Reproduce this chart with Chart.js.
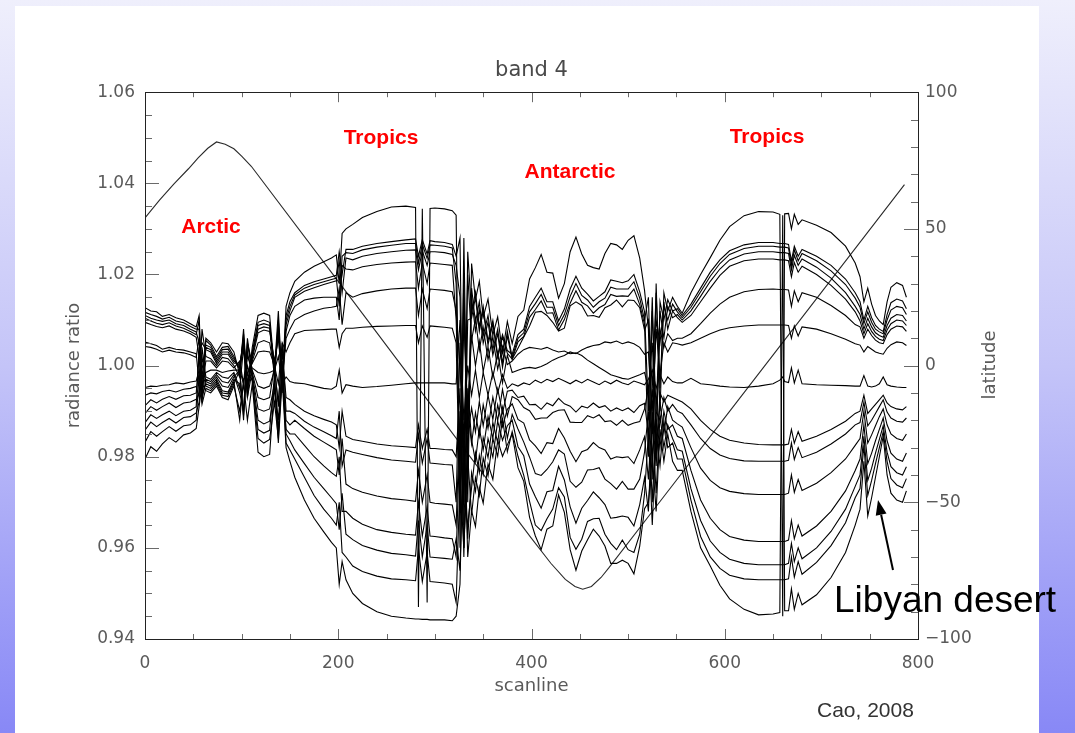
<!DOCTYPE html>
<html><head><meta charset="utf-8">
<script src="https://cdn.jsdelivr.net/npm/chart.js@4.4.1/dist/chart.umd.min.js"></script>
<style>
html,body{margin:0;padding:0;width:1075px;height:733px;overflow:hidden;}
body{background:linear-gradient(to bottom,#efeffc 0%,#c4c4f8 50%,#8888f6 100%);position:relative;}
#panel{position:absolute;left:15px;top:6px;width:1024px;height:727px;background:#fff;}
#wrap{position:absolute;left:0;top:0;width:1075px;height:733px;}
</style></head>
<body><div id="panel"></div><div id="wrap"><canvas id="c" width="1075" height="733"></canvas></div>
<script>
// ---- categories (scanline positions shared by all radiance-ratio series) ----
const scanlines = [
 0, 6, 12, 18, 25, 32, 40, 47, 53,
 56, 59, 63, 68, 74, 80, 86, 92, 98, 102, 106, 111, 117, 123, 129, 134, 138, 142, 146, 150,
 155, 165, 175, 185, 193, 198, 201, 204, 208,
 215, 225, 240, 255, 270, 280, 283, 287, 292, 295, 300, 310, 318,
 322, 326, 330, 334, 338, 342, 346, 350, 355, 360, 365, 370, 375,
 380, 386, 392, 398, 404, 410, 416, 422, 428, 434, 440, 446, 452, 458, 464, 470, 476, 482, 488, 494, 500, 506, 512, 517,
 521, 525, 529, 533, 537, 541, 546, 551,
 556, 565, 575, 585, 595, 605, 620, 635, 650, 657, 660, 662, 666, 669, 672, 676, 680, 695, 710, 725, 735,
 740, 744, 748, 752, 756, 760, 764, 768, 772, 778, 784, 788
];

// ---- radiance ratio series ----
const ratio01 = [
 1.0127, 1.0120, 1.0118, 1.0108, 1.0112, 1.0105, 1.0100, 1.0092, 1.0085,
 1.0110, 0.9960, 1.0060, 1.0050, 1.0030, 1.0050, 1.0048, 1.0030, 0.9980, 1.0080, 0.9950, 1.0040, 1.0110, 1.0115, 1.0110, 0.9990, 1.0120, 0.9960, 1.0130, 1.0160,
 1.0185, 1.0205, 1.0218, 1.0228, 1.0236, 1.0243, 1.0180, 1.0290, 1.0300,
 1.0310, 1.0325, 1.0338, 1.0348, 1.0350, 1.0347, 0.9470, 1.0344, 0.9480, 1.0345, 1.0346, 1.0344, 1.0340,
 1.0330, 0.9600, 1.0280, 0.9750, 1.0224, 1.0145, 1.0185, 1.0106, 1.0146, 1.0067, 1.0107, 1.0028, 1.0097,
 1.0048, 1.0108, 1.0122, 1.0190, 1.0215, 1.0244, 1.0205, 1.0203, 1.0148, 1.0180, 1.0250, 1.0282, 1.0245, 1.0220, 1.0215, 1.0212, 1.0246, 1.0268, 1.0265, 1.0255, 1.0275, 1.0285, 1.0236, 1.0165,
 1.0080, 0.9750, 1.0180, 0.9900, 1.0160, 1.0120, 1.0150, 1.0130,
 1.0115, 1.0160, 1.0200, 1.0237, 1.0275, 1.0305, 1.0329, 1.0338, 1.0337, 1.0332, 0.9450, 1.0333, 1.0334, 1.0300, 1.0332, 1.0310, 1.0320, 1.0308, 1.0292, 1.0262, 1.0225,
 1.0195, 1.0140, 1.0170, 1.0135, 1.0110, 1.0098, 1.0090, 1.0140, 1.0172, 1.0182, 1.0176, 1.0150
];
const ratio02 = [
 1.0117, 1.0112, 1.0108, 1.0102, 1.0106, 1.0098, 1.0094, 1.0086, 1.0080,
 1.0080, 0.9930, 1.0055, 1.0045, 1.0020, 1.0040, 1.0042, 1.0020, 0.9990, 1.0070, 0.9940, 1.0030, 1.0095, 1.0100, 1.0095, 0.9980, 1.0100, 0.9950, 1.0110, 1.0140,
 1.0160, 1.0176, 1.0184, 1.0190, 1.0195, 1.0198, 1.0250, 1.0200, 1.0255,
 1.0255, 1.0262, 1.0268, 1.0272, 1.0276, 1.0278, 1.0240, 1.0276, 1.0245, 1.0274, 1.0272, 1.0270, 1.0266,
 1.0240, 1.0280, 0.9650, 1.0250, 1.0116, 1.0161, 1.0085, 1.0130, 1.0054, 1.0099, 1.0023, 1.0068, 1.0033,
 1.0025, 1.0068, 1.0080, 1.0130, 1.0150, 1.0170, 1.0140, 1.0140, 1.0098, 1.0124, 1.0168, 1.0196, 1.0170, 1.0157, 1.0142, 1.0152, 1.0162, 1.0188, 1.0185, 1.0182, 1.0186, 1.0200, 1.0162, 1.0118,
 0.9900, 1.0150, 0.9800, 1.0140, 1.0100, 1.0145, 1.0120, 1.0125,
 1.0110, 1.0135, 1.0170, 1.0205, 1.0232, 1.0252, 1.0265, 1.0270, 1.0270, 1.0268, 1.0268, 1.0268, 1.0266, 1.0230, 1.0262, 1.0240, 1.0255, 1.0240, 1.0220, 1.0190, 1.0160,
 1.0140, 1.0100, 1.0130, 1.0105, 1.0088, 1.0080, 1.0075, 1.0112, 1.0138, 1.0146, 1.0142, 1.0125
];
const ratio03 = [
 1.0110, 1.0104, 1.0100, 1.0097, 1.0100, 1.0092, 1.0088, 1.0080, 1.0074,
 1.0050, 0.9990, 1.0045, 1.0040, 1.0015, 1.0035, 1.0036, 1.0015, 0.9995, 1.0060, 0.9960, 1.0025, 1.0088, 1.0092, 1.0088, 0.9970, 1.0090, 0.9970, 1.0100, 1.0130,
 1.0155, 1.0170, 1.0178, 1.0184, 1.0189, 1.0192, 1.0130, 1.0240, 1.0248,
 1.0246, 1.0254, 1.0260, 1.0264, 1.0268, 1.0268, 1.0225, 1.0266, 1.0235, 1.0265, 1.0264, 1.0262, 1.0258,
 1.0180, 0.9750, 1.0200, 0.9700, 1.0170, 1.0095, 1.0140, 1.0065, 1.0110, 1.0035, 1.0080, 1.0005, 1.0075,
 1.0018, 1.0060, 1.0072, 1.0118, 1.0136, 1.0156, 1.0128, 1.0128, 1.0088, 1.0112, 1.0152, 1.0180, 1.0154, 1.0144, 1.0128, 1.0140, 1.0148, 1.0172, 1.0168, 1.0168, 1.0168, 1.0184, 1.0148, 1.0100,
 1.0150, 0.9850, 1.0100, 1.0050, 1.0130, 1.0100, 1.0135, 1.0118,
 1.0105, 1.0128, 1.0162, 1.0196, 1.0224, 1.0244, 1.0257, 1.0262, 1.0262, 1.0260, 1.0260, 1.0260, 1.0258, 1.0220, 1.0254, 1.0230, 1.0246, 1.0230, 1.0208, 1.0178, 1.0148,
 1.0128, 1.0092, 1.0118, 1.0095, 1.0080, 1.0074, 1.0070, 1.0100, 1.0122, 1.0130, 1.0127, 1.0112
];
const ratio04 = [
 1.0104, 1.0098, 1.0093, 1.0090, 1.0094, 1.0087, 1.0082, 1.0075, 1.0068,
 1.0100, 0.9920, 1.0040, 1.0035, 1.0010, 1.0030, 1.0030, 1.0010, 1.0000, 1.0050, 0.9930, 1.0020, 1.0080, 1.0085, 1.0082, 1.0000, 1.0070, 0.9940, 1.0090, 1.0120,
 1.0150, 1.0163, 1.0171, 1.0178, 1.0183, 1.0186, 1.0230, 1.0160, 1.0236,
 1.0232, 1.0240, 1.0246, 1.0250, 1.0253, 1.0254, 1.0210, 1.0252, 1.0220, 1.0250, 1.0250, 1.0248, 1.0244,
 1.0220, 1.0150, 0.9700, 1.0100, 1.0104, 1.0150, 1.0075, 1.0121, 1.0046, 1.0092, 1.0017, 1.0063, 1.0027,
 1.0014, 1.0052, 1.0064, 1.0106, 1.0123, 1.0142, 1.0115, 1.0116, 1.0078, 1.0101, 1.0137, 1.0164, 1.0139, 1.0131, 1.0115, 1.0127, 1.0134, 1.0156, 1.0152, 1.0153, 1.0152, 1.0168, 1.0134, 1.0090,
 0.9800, 1.0120, 0.9900, 1.0120, 1.0060, 1.0130, 1.0105, 1.0112,
 1.0100, 1.0120, 1.0152, 1.0185, 1.0212, 1.0232, 1.0245, 1.0250, 1.0250, 1.0248, 1.0248, 1.0248, 1.0246, 1.0210, 1.0242, 1.0220, 1.0234, 1.0216, 1.0192, 1.0160, 1.0130,
 1.0112, 1.0080, 1.0104, 1.0085, 1.0072, 1.0066, 1.0062, 1.0088, 1.0104, 1.0112, 1.0110, 1.0098
];
const ratio05 = [
 1.0095, 1.0090, 1.0086, 1.0083, 1.0087, 1.0080, 1.0076, 1.0070, 1.0062,
 1.0020, 1.0050, 1.0035, 1.0030, 1.0005, 1.0025, 1.0025, 1.0005, 1.0005, 1.0040, 0.9980, 1.0015, 1.0072, 1.0078, 1.0075, 1.0010, 1.0060, 0.9980, 1.0075, 1.0110,
 1.0130, 1.0144, 1.0148, 1.0150, 1.0150, 1.0150, 1.0100, 1.0220, 1.0212,
 1.0210, 1.0217, 1.0222, 1.0225, 1.0227, 1.0228, 1.0170, 1.0226, 1.0180, 1.0225, 1.0224, 1.0222, 1.0220,
 1.0100, 0.9800, 1.0150, 0.9850, 1.0149, 1.0076, 1.0123, 1.0049, 1.0096, 1.0023, 1.0070, 0.9996, 1.0065,
 1.0014, 1.0038, 1.0063, 1.0087, 1.0117, 1.0119, 1.0110, 1.0095, 1.0076, 1.0082, 1.0131, 1.0140, 1.0132, 1.0109, 1.0110, 1.0106, 1.0127, 1.0133, 1.0144, 1.0129, 1.0144, 1.0143, 1.0127, 1.0078,
 1.0100, 0.9950, 1.0160, 0.9950, 1.0140, 1.0080, 1.0120, 1.0105,
 1.0095, 1.0110, 1.0140, 1.0170, 1.0198, 1.0218, 1.0230, 1.0234, 1.0234, 1.0232, 1.0232, 1.0232, 1.0230, 1.0195, 1.0226, 1.0205, 1.0218, 1.0200, 1.0176, 1.0146, 1.0118,
 1.0098, 1.0070, 1.0092, 1.0075, 1.0064, 1.0058, 1.0055, 1.0078, 1.0092, 1.0100, 1.0098, 1.0088
];
const ratio06 = [
 1.0052, 1.0048, 1.0044, 1.0036, 1.0040, 1.0036, 1.0034, 1.0030, 1.0026,
 0.9960, 1.0080, 1.0020, 1.0015, 1.0000, 1.0018, 1.0015, 1.0000, 0.9975, 1.0060, 0.9960, 1.0010, 1.0050, 1.0055, 1.0050, 0.9990, 1.0080, 0.9960, 1.0060, 1.0080,
 1.0100, 1.0112, 1.0120, 1.0126, 1.0128, 1.0130, 1.0170, 1.0090, 1.0160,
 1.0150, 1.0158, 1.0164, 1.0168, 1.0170, 1.0170, 1.0110, 1.0168, 1.0125, 1.0168, 1.0167, 1.0165, 1.0162,
 1.0120, 1.0000, 0.9800, 1.0200, 1.0055, 1.0104, 1.0034, 1.0084, 1.0013, 1.0063, 0.9992, 1.0042, 1.0002,
 1.0010, 1.0025, 1.0035, 1.0040, 1.0038, 1.0036, 1.0040, 1.0034, 1.0030, 1.0032, 1.0026, 1.0028, 1.0022, 1.0012, 1.0004, 0.9996, 0.9988, 0.9980, 0.9976, 0.9972, 0.9970, 0.9975, 0.9980, 0.9985,
 0.9950, 1.0050, 0.9850, 1.0080, 1.0040, 1.0070, 1.0055, 1.0060,
 1.0060, 1.0070, 1.0092, 1.0115, 1.0135, 1.0150, 1.0162, 1.0167, 1.0168, 1.0167, 1.0167, 1.0167, 1.0166, 1.0130, 1.0164, 1.0140, 1.0160, 1.0150, 1.0132, 1.0110, 1.0090,
 1.0085, 1.0060, 1.0080, 1.0066, 1.0056, 1.0050, 1.0048, 1.0068, 1.0080, 1.0087, 1.0085, 1.0075
];
const ratio07 = [
 1.0042, 1.0040, 1.0036, 1.0030, 1.0034, 1.0030, 1.0028, 1.0024, 1.0018,
 1.0060, 0.9950, 1.0010, 1.0010, 0.9995, 1.0010, 1.0008, 0.9995, 1.0010, 0.9960, 1.0050, 1.0005, 1.0030, 1.0032, 1.0030, 1.0000, 0.9960, 1.0050, 1.0030, 1.0050,
 1.0070, 1.0077, 1.0078, 1.0079, 1.0080, 1.0080, 1.0040, 1.0070, 1.0082,
 1.0082, 1.0084, 1.0086, 1.0087, 1.0088, 1.0088, 1.0050, 1.0087, 1.0062, 1.0087, 1.0086, 1.0084, 1.0082,
 1.0050, 0.9700, 1.0100, 0.9900, 1.0066, 1.0000, 1.0054, 0.9987, 1.0041, 0.9974, 1.0028, 0.9962, 1.0023,
 0.9985, 0.9990, 0.9994, 0.9996, 0.9994, 0.9998, 1.0004, 1.0012, 1.0018, 1.0022, 1.0030, 1.0026, 1.0034, 1.0040, 1.0044, 1.0046, 1.0052, 1.0050, 1.0054, 1.0048, 1.0052, 1.0048, 1.0040, 1.0025,
 1.0030, 0.9900, 1.0080, 0.9980, 1.0050, 1.0030, 1.0050, 1.0048,
 1.0045, 1.0050, 1.0060, 1.0070, 1.0078, 1.0083, 1.0087, 1.0089, 1.0089, 1.0089, 1.0089, 1.0089, 1.0088, 1.0060, 1.0087, 1.0065, 1.0085, 1.0080, 1.0070, 1.0058, 1.0048,
 1.0045, 1.0030, 1.0042, 1.0036, 1.0030, 1.0027, 1.0025, 1.0038, 1.0046, 1.0052, 1.0050, 1.0044
];
const ratio08 = [
 0.9952, 0.9955, 0.9954, 0.9957, 0.9958, 0.9962, 0.9960, 0.9964, 0.9966,
 0.9990, 0.9960, 0.9985, 0.9990, 0.9990, 0.9985, 0.9988, 0.9990, 0.9990, 0.9960, 1.0020, 0.9995, 0.9985, 0.9982, 0.9985, 0.9990, 1.0020, 0.9960, 0.9975, 0.9965,
 0.9962, 0.9960, 0.9955, 0.9950, 0.9948, 0.9955, 0.9990, 0.9940, 0.9958,
 0.9955, 0.9952, 0.9954, 0.9957, 0.9960, 0.9962, 0.9962, 0.9962, 0.9962, 0.9962, 0.9962, 0.9962, 0.9960,
 0.9960, 1.0100, 0.9880, 1.0000, 0.9935, 0.9990, 0.9930, 0.9985, 0.9935, 0.9985, 0.9940, 0.9980, 0.9950,
 0.9960, 0.9955, 0.9962, 0.9958, 0.9968, 0.9962, 0.9970, 0.9965, 0.9972, 0.9966, 0.9960, 0.9968, 0.9962, 0.9970, 0.9964, 0.9958, 0.9966, 0.9960, 0.9968, 0.9962, 0.9958, 0.9966, 0.9962, 0.9958,
 0.9970, 0.9990, 0.9950, 0.9980, 0.9960, 0.9975, 0.9965, 0.9962,
 0.9962, 0.9972, 0.9960, 0.9958, 0.9955, 0.9953, 0.9952, 0.9955, 0.9960, 0.9968, 0.9975, 0.9965, 0.9963, 0.9995, 0.9962, 0.9990, 0.9960, 0.9958, 0.9957, 0.9956, 0.9955,
 0.9955, 0.9978, 0.9955, 0.9953, 0.9955, 0.9960, 0.9975, 0.9958, 0.9955, 0.9953, 0.9952, 0.9952
];
const ratio09 = [
 0.9935, 0.9940, 0.9938, 0.9943, 0.9946, 0.9942, 0.9948, 0.9950, 0.9954,
 0.9930, 1.0040, 0.9975, 0.9970, 0.9985, 0.9975, 0.9972, 0.9985, 0.9950, 1.0040, 0.9930, 0.9990, 0.9955, 0.9950, 0.9955, 0.9990, 0.9920, 1.0030, 0.9930, 0.9925,
 0.9915, 0.9900, 0.9890, 0.9882, 0.9876, 0.9870, 0.9820, 0.9900, 0.9845,
 0.9838, 0.9834, 0.9828, 0.9824, 0.9822, 0.9820, 0.9870, 0.9818, 0.9860, 0.9818, 0.9818, 0.9816, 0.9815,
 0.9800, 0.9950, 0.9600, 0.9850, 0.9907, 0.9854, 0.9921, 0.9868, 0.9935, 0.9882, 0.9949, 0.9896, 0.9944,
 0.9946, 0.9930, 0.9933, 0.9914, 0.9915, 0.9904, 0.9918, 0.9912, 0.9928, 0.9916, 0.9911, 0.9898, 0.9911, 0.9907, 0.9918, 0.9908, 0.9912, 0.9900, 0.9907, 0.9901, 0.9907, 0.9897, 0.9912, 0.9917,
 0.9850, 0.9950, 0.9800, 0.9940, 0.9920, 0.9935, 0.9930, 0.9925,
 0.9920, 0.9905, 0.9880, 0.9860, 0.9845, 0.9836, 0.9830, 0.9827, 0.9826, 0.9826, 0.9826, 0.9826, 0.9828, 0.9860, 0.9830, 0.9855, 0.9834, 0.9845, 0.9860, 0.9878, 0.9895,
 0.9900, 0.9935, 0.9895, 0.9905, 0.9915, 0.9925, 0.9935, 0.9918, 0.9910, 0.9905, 0.9903, 0.9910
];
const ratio10 = [
 0.9912, 0.9925, 0.9918, 0.9926, 0.9932, 0.9926, 0.9934, 0.9935, 0.9940,
 1.0020, 0.9925, 0.9970, 0.9965, 0.9980, 0.9965, 0.9962, 0.9980, 0.9940, 0.9900, 1.0050, 0.9985, 0.9930, 0.9925, 0.9930, 1.0000, 0.9910, 1.0050, 0.9900, 0.9900,
 0.9895, 0.9878, 0.9865, 0.9855, 0.9846, 0.9840, 0.9900, 0.9780, 0.9815,
 0.9810, 0.9805, 0.9798, 0.9793, 0.9790, 0.9788, 0.9850, 0.9786, 0.9840, 0.9786, 0.9785, 0.9783, 0.9782,
 0.9700, 1.0050, 0.9750, 0.9900, 0.9828, 0.9897, 0.9845, 0.9914, 0.9862, 0.9931, 0.9879, 0.9948, 0.9889,
 0.9932, 0.9925, 0.9908, 0.9901, 0.9882, 0.9885, 0.9885, 0.9897, 0.9902, 0.9903, 0.9876, 0.9875, 0.9875, 0.9890, 0.9885, 0.9892, 0.9877, 0.9879, 0.9869, 0.9880, 0.9869, 0.9874, 0.9877, 0.9905,
 0.9950, 0.9800, 0.9900, 0.9880, 0.9930, 0.9900, 0.9915, 0.9900,
 0.9895, 0.9870, 0.9840, 0.9818, 0.9804, 0.9796, 0.9791, 0.9790, 0.9790, 0.9790, 0.9790, 0.9790, 0.9792, 0.9830, 0.9794, 0.9820, 0.9798, 0.9810, 0.9828, 0.9850, 0.9870,
 0.9875, 0.9920, 0.9868, 0.9880, 0.9895, 0.9910, 0.9925, 0.9898, 0.9885, 0.9878, 0.9876, 0.9885
];
const ratio11 = [
 0.9895, 0.9910, 0.9902, 0.9910, 0.9918, 0.9908, 0.9918, 0.9920, 0.9926,
 0.9940, 1.0020, 0.9965, 0.9960, 0.9975, 0.9955, 0.9952, 0.9975, 0.9990, 0.9880, 1.0060, 0.9980, 0.9905, 0.9900, 0.9905, 0.9960, 0.9880, 1.0000, 0.9880, 0.9870,
 0.9880, 0.9862, 0.9845, 0.9832, 0.9822, 0.9815, 0.9760, 0.9840, 0.9740,
 0.9730, 0.9722, 0.9714, 0.9708, 0.9705, 0.9702, 0.9770, 0.9700, 0.9760, 0.9700, 0.9698, 0.9696, 0.9694,
 0.9650, 0.9900, 0.9580, 0.9950, 0.9837, 0.9790, 0.9863, 0.9815, 0.9888, 0.9841, 0.9914, 0.9866, 0.9904,
 0.9916, 0.9882, 0.9874, 0.9837, 0.9824, 0.9807, 0.9831, 0.9829, 0.9862, 0.9841, 0.9812, 0.9789, 0.9811, 0.9816, 0.9831, 0.9820, 0.9815, 0.9795, 0.9800, 0.9798, 0.9800, 0.9785, 0.9815, 0.9844,
 0.9750, 0.9900, 0.9780, 0.9920, 0.9850, 0.9910, 0.9880, 0.9872,
 0.9865, 0.9820, 0.9775, 0.9748, 0.9732, 0.9724, 0.9719, 0.9717, 0.9717, 0.9717, 0.9717, 0.9717, 0.9720, 0.9760, 0.9722, 0.9750, 0.9726, 0.9742, 0.9765, 0.9795, 0.9825,
 0.9840, 0.9900, 0.9830, 0.9848, 0.9868, 0.9888, 0.9905, 0.9870, 0.9850, 0.9840, 0.9836, 0.9850
];
const ratio12 = [
 0.9875, 0.9892, 0.9884, 0.9892, 0.9900, 0.9890, 0.9900, 0.9902, 0.9910,
 1.0040, 0.9935, 0.9960, 0.9955, 0.9970, 0.9945, 0.9942, 0.9970, 0.9960, 0.9900, 1.0030, 0.9975, 0.9880, 0.9872, 0.9878, 0.9950, 0.9860, 0.9980, 0.9860, 0.9850,
 0.9850, 0.9825, 0.9800, 0.9780, 0.9765, 0.9757, 0.9800, 0.9680, 0.9680,
 0.9665, 0.9652, 0.9640, 0.9634, 0.9630, 0.9628, 0.9700, 0.9626, 0.9690, 0.9626, 0.9625, 0.9622, 0.9620,
 0.9580, 0.9850, 0.9700, 0.9650, 0.9732, 0.9809, 0.9765, 0.9842, 0.9798, 0.9875, 0.9831, 0.9908, 0.9841,
 0.9893, 0.9861, 0.9832, 0.9799, 0.9763, 0.9759, 0.9772, 0.9789, 0.9815, 0.9806, 0.9746, 0.9733, 0.9744, 0.9771, 0.9772, 0.9776, 0.9751, 0.9741, 0.9729, 0.9746, 0.9729, 0.9729, 0.9751, 0.9810,
 0.9900, 0.9700, 0.9880, 0.9820, 0.9900, 0.9860, 0.9870, 0.9845,
 0.9840, 0.9770, 0.9705, 0.9665, 0.9640, 0.9625, 0.9617, 0.9614, 0.9614, 0.9614, 0.9614, 0.9614, 0.9617, 0.9660, 0.9620, 0.9650, 0.9626, 0.9648, 0.9680, 0.9725, 0.9770,
 0.9795, 0.9870, 0.9785, 0.9808, 0.9835, 0.9860, 0.9885, 0.9835, 0.9808, 0.9795, 0.9790, 0.9808
];
const ratio13 = [
 0.9858, 0.9876, 0.9866, 0.9875, 0.9884, 0.9874, 0.9886, 0.9888, 0.9896,
 0.9920, 0.9990, 0.9955, 0.9950, 0.9965, 0.9940, 0.9938, 0.9965, 0.9880, 0.9970, 0.9980, 0.9970, 0.9860, 0.9852, 0.9858, 0.9980, 0.9850, 1.0010, 0.9850, 0.9835,
 0.9815, 0.9785, 0.9755, 0.9730, 0.9710, 0.9697, 0.9640, 0.9720, 0.9630,
 0.9618, 0.9605, 0.9595, 0.9588, 0.9585, 0.9582, 0.9660, 0.9580, 0.9650, 0.9580, 0.9579, 0.9577, 0.9575,
 0.9620, 0.9550, 0.9850, 0.9620, 0.9765, 0.9724, 0.9803, 0.9761, 0.9840, 0.9799, 0.9878, 0.9836, 0.9868,
 0.9880, 0.9822, 0.9802, 0.9740, 0.9712, 0.9687, 0.9723, 0.9726, 0.9779, 0.9749, 0.9690, 0.9654, 0.9687, 0.9704, 0.9723, 0.9710, 0.9695, 0.9665, 0.9667, 0.9670, 0.9667, 0.9648, 0.9695, 0.9754,
 0.9680, 0.9880, 0.9720, 0.9890, 0.9820, 0.9870, 0.9840, 0.9815,
 0.9812, 0.9730, 0.9660, 0.9615, 0.9590, 0.9575, 0.9566, 0.9563, 0.9563, 0.9563, 0.9563, 0.9563, 0.9566, 0.9610, 0.9570, 0.9600, 0.9576, 0.9600, 0.9636, 0.9685, 0.9735,
 0.9760, 0.9845, 0.9748, 0.9775, 0.9808, 0.9838, 0.9868, 0.9810, 0.9778, 0.9765, 0.9760, 0.9778
];
const ratio14 = [
 0.9832, 0.9855, 0.9845, 0.9855, 0.9866, 0.9856, 0.9868, 0.9870, 0.9880,
 0.9980, 0.9915, 0.9950, 0.9945, 0.9960, 0.9935, 0.9932, 0.9960, 0.9990, 0.9890, 1.0000, 0.9965, 0.9840, 0.9830, 0.9838, 0.9920, 0.9840, 0.9990, 0.9830, 0.9815,
 0.9795, 0.9755, 0.9715, 0.9685, 0.9665, 0.9650, 0.9700, 0.9590, 0.9580,
 0.9560, 0.9548, 0.9538, 0.9532, 0.9530, 0.9528, 0.9600, 0.9526, 0.9590, 0.9526, 0.9525, 0.9523, 0.9520,
 0.9480, 0.9750, 0.9600, 0.9800, 0.9672, 0.9754, 0.9715, 0.9797, 0.9758, 0.9840, 0.9801, 0.9883, 0.9811,
 0.9855, 0.9801, 0.9759, 0.9702, 0.9650, 0.9638, 0.9664, 0.9685, 0.9732, 0.9712, 0.9623, 0.9597, 0.9619, 0.9658, 0.9664, 0.9665, 0.9630, 0.9610, 0.9596, 0.9617, 0.9596, 0.9590, 0.9630, 0.9719,
 0.9850, 0.9650, 0.9850, 0.9780, 0.9880, 0.9820, 0.9830, 0.9795,
 0.9795, 0.9705, 0.9625, 0.9580, 0.9555, 0.9540, 0.9532, 0.9530, 0.9530, 0.9530, 0.9530, 0.9530, 0.9532, 0.9580, 0.9536, 0.9570, 0.9542, 0.9568, 0.9605, 0.9655, 0.9710,
 0.9730, 0.9825, 0.9715, 0.9748, 0.9785, 0.9820, 0.9855, 0.9790, 0.9752, 0.9738, 0.9732, 0.9752
];
const ratio15 = [
 0.9795, 0.9822, 0.9812, 0.9828, 0.9842, 0.9832, 0.9848, 0.9852, 0.9862,
 0.9910, 0.9960, 0.9945, 0.9940, 0.9955, 0.9930, 0.9925, 0.9955, 0.9900, 0.9960, 0.9880, 0.9960, 0.9810, 0.9800, 0.9805, 0.9960, 0.9830, 0.9970, 0.9820, 0.9790,
 0.9755, 0.9705, 0.9665, 0.9635, 0.9612, 0.9600, 0.9520, 0.9570, 0.9530,
 0.9500, 0.9478, 0.9460, 0.9450, 0.9446, 0.9444, 0.9444, 0.9443, 0.9443, 0.9442, 0.9442, 0.9442, 0.9440,
 0.9450, 0.9520, 0.9900, 0.9580, 0.9681, 0.9647, 0.9733, 0.9698, 0.9784, 0.9750, 0.9836, 0.9801, 0.9826,
 0.9850, 0.9776, 0.9746, 0.9667, 0.9626, 0.9596, 0.9641, 0.9648, 0.9716, 0.9678, 0.9596, 0.9551, 0.9593, 0.9618, 0.9641, 0.9626, 0.9604, 0.9566, 0.9566, 0.9573, 0.9566, 0.9543, 0.9604, 0.9686,
 0.9700, 0.9800, 0.9680, 0.9860, 0.9790, 0.9850, 0.9790, 0.9770,
 0.9770, 0.9680, 0.9600, 0.9560, 0.9518, 0.9488, 0.9465, 0.9453, 0.9455, 0.9458, 1.0330, 0.9462, 0.9462, 0.9510, 0.9465, 0.9500, 0.9475, 0.9497, 0.9535, 0.9590, 0.9650,
 0.9685, 0.9790, 0.9670, 0.9710, 0.9755, 0.9800, 0.9845, 0.9760, 0.9720, 0.9705, 0.9700, 0.9725
];

// ---- latitude series (right axis) ----
const latScan   = [0, 15, 30, 45, 55, 65, 74, 83, 92, 100, 110, 200, 300, 400, 420, 435, 445, 453, 462, 472, 480, 533, 600, 700, 786];
const latValues = [54.0, 60.5, 66.5, 72.0, 76.0, 79.5, 81.8, 81.0, 79.3, 76.6, 72.9, 30.8, -16.2, -63.2, -72.3, -78.2, -80.8, -81.8, -80.8, -77.5, -74.0, -49.7, -19.0, 26.8, 66.2];

// ---- axis tick values ----
const xTickLabels = [0, 200, 400, 600, 800];
const yTickLabels = [0.94, 0.96, 0.98, 1.00, 1.02, 1.04, 1.06];
const latTickLabels = [-100, -50, 0, 50, 100];

const radianceSeries = [ratio01, ratio02, ratio03, ratio04, ratio05, ratio06, ratio07, ratio08,
                        ratio09, ratio10, ratio11, ratio12, ratio13, ratio14, ratio15];
radianceSeries.forEach((s, i) => {
  if (s.length !== scanlines.length) console.error('series ' + (i + 1) + ' has ' + s.length + ' values, expected ' + scanlines.length);
});

const datasets = radianceSeries.map(vals => ({
  data: vals.map((v, i) => ({ x: scanlines[i], y: v })),
  borderColor: '#000', borderWidth: 1.1, pointRadius: 0, tension: 0, fill: false,
  xAxisID: 'x', yAxisID: 'y'
}));
datasets.push({
  data: latScan.map((s, i) => ({ x: s, y: latValues[i] })),
  borderColor: '#2a2a2a', borderWidth: 1.1, pointRadius: 0, tension: 0, fill: false,
  xAxisID: 'x', yAxisID: 'y1'
});

const tickFont = { family: 'DejaVu Sans', size: 17 };
const tickColor = '#5a5a5a';

const frameTicks = {
  id: 'frameTicks',
  afterDatasetsDraw(chart) {
    const { ctx, chartArea: a, scales } = chart;
    const x = scales.x, y = scales.y, y1 = scales.y1;
    ctx.save();
    ctx.lineWidth = 1;
    ctx.strokeStyle = '#6a6a6a';
    const seg = (x0, y0, x1, yy1) => { ctx.beginPath(); ctx.moveTo(x0, y0); ctx.lineTo(x1, yy1); ctx.stroke(); };
    for (let v = 0; v <= 800; v += 50) {
      const px = Math.round(x.getPixelForValue(v)) + 0.5;
      const len = (v % 200 === 0) ? 10 : 5;
      seg(px, a.bottom, px, a.bottom - len);
      seg(px, a.top, px, a.top + len);
    }
    for (let k = 0; k <= 24; k++) {
      const v = 0.94 + k * 0.005;
      const py = Math.round(y.getPixelForValue(v)) + 0.5;
      const len = (k % 4 === 0) ? 14 : 7;
      seg(a.left, py, a.left + len, py);
    }
    for (let v = -100; v <= 100; v += 10) {
      const py = Math.round(y1.getPixelForValue(v)) + 0.5;
      const len = (v % 50 === 0) ? 14 : 7;
      seg(a.right, py, a.right - len, py);
    }
    ctx.strokeStyle = '#222';
    ctx.strokeRect(Math.round(a.left) + 0.5, Math.round(a.top) + 0.5, Math.round(a.right - a.left), Math.round(a.bottom - a.top));
    ctx.restore();
  }
};

const annotations = {
  id: 'annotations',
  afterDraw(chart) {
    const ctx = chart.ctx;
    ctx.save();
    ctx.fillStyle = '#ff0000';
    ctx.font = 'bold 21px "Liberation Sans", Arial, sans-serif';
    ctx.textAlign = 'center'; ctx.textBaseline = 'middle';
    ctx.fillText('Arctic', 211, 227);
    ctx.fillText('Tropics', 381, 138);
    ctx.fillText('Antarctic', 570, 172);
    ctx.fillText('Tropics', 767, 137);

    ctx.fillStyle = '#000';
    ctx.font = '37px "Liberation Sans", Arial, sans-serif';
    ctx.textAlign = 'left'; ctx.textBaseline = 'alphabetic';
    ctx.fillText('Libyan desert', 834, 612);

    ctx.fillStyle = '#333';
    ctx.font = '21px "Liberation Sans", Arial, sans-serif';
    ctx.fillText('Cao, 2008', 817, 717);

    // right axis title
    ctx.save();
    ctx.translate(990, 365);
    ctx.rotate(-Math.PI / 2);
    ctx.fillStyle = '#5a5a5a';
    ctx.font = '18px "DejaVu Sans", sans-serif';
    ctx.textAlign = 'center'; ctx.textBaseline = 'middle';
    ctx.fillText('latitude', 0, 0);
    ctx.restore();

    // arrow
    const tail = [893, 570], tip = [878, 500];
    const dx = tip[0] - tail[0], dy = tip[1] - tail[1];
    const L = Math.hypot(dx, dy), ux = dx / L, uy = dy / L;
    const hl = 15, hw = 5.5;
    const bx = tip[0] - ux * hl, by = tip[1] - uy * hl;
    ctx.strokeStyle = '#000'; ctx.lineWidth = 2;
    ctx.beginPath(); ctx.moveTo(tail[0], tail[1]); ctx.lineTo(bx, by); ctx.stroke();
    ctx.fillStyle = '#000';
    ctx.beginPath();
    ctx.moveTo(tip[0], tip[1]);
    ctx.lineTo(bx - uy * hw, by + ux * hw);
    ctx.lineTo(bx + uy * hw, by - ux * hw);
    ctx.closePath(); ctx.fill();
    ctx.restore();
  }
};

new Chart(document.getElementById('c'), {
  type: 'line',
  data: { datasets },
  options: {
    responsive: false, animation: false, events: [],
    layout: { padding: { top: 0, left: 0, right: 0, bottom: 0 } },
    plugins: {
      legend: { display: false }, tooltip: { enabled: false },
      title: { display: true, text: 'band 4', fullSize: false, color: '#4a4a4a',
               font: { family: 'DejaVu Sans', size: 21, weight: 'normal' },
               padding: { top: 58, bottom: 9 } }
    },
    scales: {
      x: {
        type: 'linear', position: 'bottom', min: 0, max: 800,
        afterBuildTicks(s) { s.ticks = xTickLabels.map(v => ({ value: v })); },
        ticks: { padding: 14, font: tickFont, color: tickColor, maxRotation: 0, autoSkip: false },
        grid: { display: false, drawTicks: false }, border: { display: false },
        title: { display: true, text: 'scanline', color: tickColor, font: { family: 'DejaVu Sans', size: 18 }, padding: { top: 0, bottom: 36 } },
        afterFit(s) { s.height = 94; }
      },
      y: {
        type: 'linear', position: 'left', min: 0.94, max: 1.06,
        afterBuildTicks(s) { s.ticks = yTickLabels.map(v => ({ value: v })); },
        ticks: { padding: 10, font: tickFont, color: tickColor, callback: v => Number(v).toFixed(2) },
        grid: { display: false, drawTicks: false }, border: { display: false },
        title: { display: true, text: 'radiance ratio', color: tickColor, font: { family: 'DejaVu Sans', size: 18 }, padding: { top: 64, bottom: 0 } },
        afterFit(s) { s.width = 145; }
      },
      y1: {
        type: 'linear', position: 'right', min: -100, max: 100,
        afterBuildTicks(s) { s.ticks = latTickLabels.map(v => ({ value: v })); },
        ticks: { padding: 7, font: tickFont, color: tickColor, callback: v => (v < 0 ? '\u2212' + Math.abs(v) : String(v)) },
        grid: { display: false, drawTicks: false }, border: { display: false },
        title: { display: false },
        afterFit(s) { s.width = 157; }
      }
    }
  },
  plugins: [frameTicks, annotations]
});
</script>
</body></html>
